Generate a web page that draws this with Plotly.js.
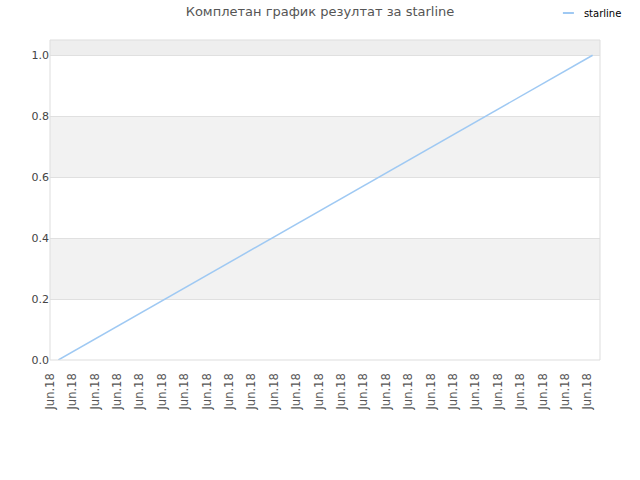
<!DOCTYPE html>
<html><head><meta charset="utf-8">
<script src="https://cdn.plot.ly/plotly-3.0.1.min.js"></script>
<style>body{margin:0}#c{width:640px;height:480px}</style>
</head><body><div id="c"></div>
<script>
const tickPositions = [0,1,2,3,4,5,6,7,8,9,10,11,12,13,14,15,16,17,18,19,20,21,22,23,24];
const tickLabels = tickPositions.map(() => 'Jun.18');
const seriesX = [0.37, 24.22];
const seriesY = [0, 1];
const seriesName = 'starline';
const yTicks = [0, 0.2, 0.4, 0.6, 0.8, 1.0];
const yTickLabels = ['0.0', '0.2', '0.4', '0.6', '0.8', '1.0'];
const bands = [[0.2, 0.4, '#f2f2f2'], [0.6, 0.8, '#f2f2f2'], [1.0, 1.05, '#eeeeee']];

const shapes = bands.map(b => ({type:'rect', xref:'paper', yref:'y', x0:0, x1:1, y0:b[0], y1:b[1], fillcolor:b[2], line:{width:0}, layer:'below'}));
shapes.push({type:'rect', xref:'paper', yref:'paper', x0:0, x1:1, y0:0, y1:1, line:{color:'#dddddd', width:1}, fillcolor:'rgba(0,0,0,0)'});

Plotly.newPlot('c', [{
  x: seriesX, y: seriesY, name: seriesName, type:'scatter', mode:'lines',
  line:{color:'#9fc9f3', width:1.5}, showlegend:true
}], {
  width:640, height:480,
  margin:{l:50, r:40, t:40, b:120, autoexpand:false},
  paper_bgcolor:'#ffffff', plot_bgcolor:'#ffffff',
  font:{family:'DejaVu Sans', size:11, color:'#444'},
  title:{text:'Комплетан график резултат за starline', font:{family:'DejaVu Sans', size:13, color:'#555'}, x:0.5, xanchor:'center', y:0.985, yanchor:'top'},
  showlegend:true,
  legend:{x:0.898, xanchor:'left', y:1.13, yanchor:'top', font:{size:10, color:'#000'}, bgcolor:'rgba(0,0,0,0)'},
  xaxis:{range:[0, 24.55], tickvals:tickPositions, ticktext:tickLabels, tickangle:-90, showgrid:false, zeroline:false, showline:false, ticks:'', ticklabelstandoff:10, tickfont:{size:11.5, color:'#555'}, fixedrange:true, automargin:false},
  yaxis:{range:[0, 1.05], tickvals:yTicks, ticktext:yTickLabels, showgrid:true, gridcolor:'#e0e0e0', zeroline:false, showline:false, ticks:'', tickfont:{size:11, color:'#444'}, automargin:false},
  shapes: shapes
}, {staticPlot:true}).then(gd => {
  gd.querySelectorAll('.legendlines path').forEach(p => p.setAttribute('d', 'M19,0h11'));
  gd.querySelectorAll('.legendlines path').forEach(p => p.style.strokeWidth = '2px');
});
</script></body></html>
